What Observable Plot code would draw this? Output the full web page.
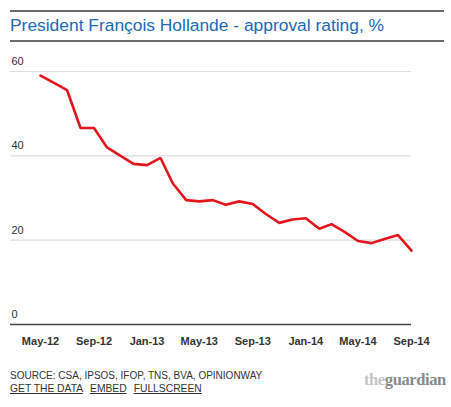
<!DOCTYPE html>
<html>
<head>
<meta charset="utf-8">
<script src="https://cdn.jsdelivr.net/npm/d3@7"></script>
<script src="https://cdn.jsdelivr.net/npm/@observablehq/plot@0.6"></script>
<style>
  html, body { margin: 0; padding: 0; background: #fff; width: 451px; height: 407px; overflow: hidden; font-family: "Liberation Sans", Arial, sans-serif; }
  .rule { position: absolute; left: 10px; width: 434px; height: 0; border-top: 2px solid #6b6b6b; }
  #title { position: absolute; left: 10px; top: 15px; font-size: 17.4px; color: #2169b9; white-space: nowrap; }
  #chart { position: absolute; left: 0; top: 45px; }
  #source { position: absolute; left: 10px; top: 370px; font-size: 10px; color: #333; white-space: nowrap; }
  #links { position: absolute; left: 10px; top: 383px; font-size: 10.3px; color: #333; white-space: nowrap; }
  #links span { text-decoration: underline; margin-right: 7px; }
  #logo { position: absolute; left: 364px; top: 370px; font-family: "Liberation Serif", serif; font-weight: bold; font-size: 16.5px; letter-spacing: -0.4px; color: #8a8a8a; }
  #logo .the { color: #c4c4c4; }
</style>
</head>
<body>
<div class="rule" style="top:10px"></div>
<div id="title">President François Hollande - approval rating, %</div>
<div class="rule" style="top:40px"></div>
<div id="chart"></div>
<div id="source">SOURCE: CSA, IPSOS, IFOP, TNS, BVA, OPINIONWAY</div>
<div id="links"><span>GET THE DATA</span><span>EMBED</span><span>FULLSCREEN</span></div>
<div id="logo"><span class="the">the</span>guardian</div>
<script>
const months = ["2012-05","2012-06","2012-07","2012-08","2012-09","2012-10","2012-11","2012-12",
  "2013-01","2013-02","2013-03","2013-04","2013-05","2013-06","2013-07","2013-08","2013-09","2013-10","2013-11","2013-12",
  "2014-01","2014-02","2014-03","2014-04","2014-05","2014-06","2014-07","2014-08","2014-09"];
const approval = [59.0,57.3,55.6,46.6,46.6,42.0,40.0,38.1,
  37.8,39.5,33.5,29.5,29.2,29.5,28.4,29.2,28.6,26.2,24.1,24.9,
  25.2,22.7,23.8,21.9,19.8,19.3,20.3,21.2,17.5];
const xTickMonths = ["2012-05","2012-09","2013-01","2013-05","2013-09","2014-01","2014-05","2014-09"];
const yTicks = [0, 20, 40, 60];

const parse = d3.utcParse("%Y-%m");
const data = months.map((m, i) => ({date: parse(m), value: approval[i]}));
const xTicks = xTickMonths.map(parse);

const chart = Plot.plot({
  width: 451,
  height: 312,
  marginLeft: 40,
  marginRight: 40,
  marginTop: 26,
  marginBottom: 33,
  style: {fontFamily: "'Liberation Sans', Arial, sans-serif", color: "#333", background: "#fff"},
  x: {type: "utc", domain: [parse("2012-05"), parse("2014-09")]},
  y: {domain: [0, 60]},
  marks: [
    Plot.ruleY(yTicks.filter(d => d > 0), {stroke: "#dddddd", strokeWidth: 1.2, insetLeft: -30}),
    Plot.ruleY([0], {stroke: "#444", strokeWidth: 1.5, insetLeft: -30}),
    Plot.axisY({ticks: yTicks, tickSize: 0, tickPadding: 0, textAnchor: "start", dx: -29, dy: -10, fontSize: 11, label: null, fill: "#333"}),
    Plot.axisX({ticks: xTicks, tickFormat: d3.utcFormat("%b-%y"), tickSize: 0, tickPadding: 0, dy: 13, fontSize: 11, fontWeight: "bold", label: null, fill: "#333"}),
    Plot.line(data, {x: "date", y: "value", stroke: "#e3161e", strokeWidth: 2.6, strokeLinejoin: "miter"})
  ]
});
document.getElementById("chart").appendChild(chart);
</script>
</body>
</html>
